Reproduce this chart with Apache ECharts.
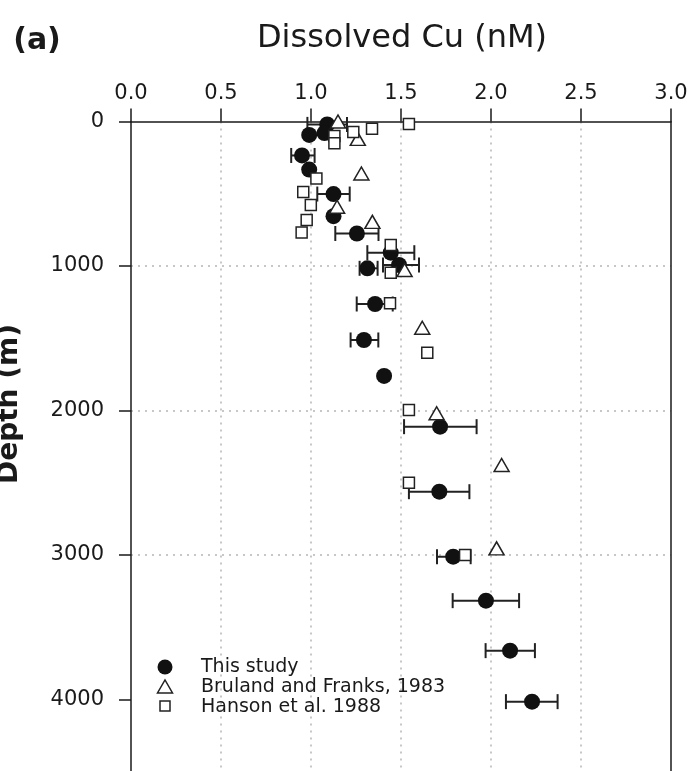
<!DOCTYPE html>
<html>
<head>
<meta charset="utf-8">
<script src="https://cdn.jsdelivr.net/npm/echarts@6/dist/echarts.min.js"></script>
<style>
html,body{margin:0;padding:0;background:#fff;}
#chart{width:691px;height:771px;}
</style>
</head>
<body>
<div id="chart"></div>
<script>
// ---- Data ----
var xTickLabels = ['0.0', '0.5', '1.0', '1.5', '2.0', '2.5', '3.0'];
var yTickValues = [0, 1000, 2000, 3000, 4000];
var seriesNames = ['This study', 'Bruland and Franks, 1983', 'Hanson et al. 1988'];

// This study (filled circles)
var studyCu    = [1.09, 1.075, 0.99, 0.95, 0.99, 1.125, 1.125, 1.255, 1.443, 1.313, 1.489, 1.356, 1.294, 1.406, 1.717, 1.713, 1.79, 1.972, 2.106, 2.228];
var studyDepth = [20, 80, 93, 235, 333, 502, 655, 775, 908, 1016, 993, 1263, 1512, 1761, 2112, 2562, 3012, 3316, 3662, 4015];
var studyLow   = [0.98, null, null, 0.89, null, 1.035, null, 1.135, 1.313, 1.27, 1.40, 1.254, 1.22, null, 1.517, 1.544, 1.70, 1.787, 1.97, 2.083];
var studyHigh  = [1.20, null, null, 1.02, null, 1.215, null, 1.375, 1.574, 1.37, 1.60, 1.454, 1.374, null, 1.92, 1.88, 1.887, 2.156, 2.244, 2.37];

// Bruland and Franks, 1983 (open triangles)
var brulandCu    = [1.15, 1.26, 1.28, 1.145, 1.341, 1.52, 1.618, 1.698, 2.059, 2.031];
var brulandDepth = [0, 120, 360, 590, 695, 1028, 1427, 2019, 2377, 2954];

// Hanson et al. 1988 (open squares)
var hansonCu    = [1.544, 1.339, 1.235, 1.13, 1.13, 1.03, 0.957, 0.999, 0.976, 0.948, 1.443, 1.443, 1.439, 1.646, 1.544, 1.544, 1.856];
var hansonDepth = [17, 50, 72, 100, 150, 395, 488, 578, 682, 769, 855, 1046, 1258, 1600, 1997, 2500, 3000];

// ---- Build ----
function pairs(xs, ys) { return xs.map(function (x, i) { return [x, ys[i]]; }); }
var errData = [];
studyLow.forEach(function (lo, i) {
  if (lo !== null) errData.push([lo, studyHigh[i], studyDepth[i]]);
});

var FONT = 'DejaVu Sans';
var INK = '#1a1a1a';
var Y_MAX = 4495;

var chart = echarts.init(document.getElementById('chart'), null, {renderer: 'canvas'});
chart.setOption({
  animation: false,
  backgroundColor: '#fff',
  grid: {left: 131, top: 121.5, width: 540, height: 649.5, containLabel: false},
  xAxis: {
    type: 'value', position: 'top', min: 0, max: 3, interval: 0.5,
    axisLine: {show: true, lineStyle: {color: INK, width: 1.5}},
    axisTick: {show: true, inside: false, length: 13, lineStyle: {color: INK, width: 1.5}},
    axisLabel: {margin: 17, color: INK, fontFamily: FONT, fontSize: 21,
      formatter: function (v) { var i = Math.round(v / 0.5); return xTickLabels[i] || ''; }},
    splitLine: {show: true, showMinLine: false, showMaxLine: false, lineStyle: {color: '#b5b5b5', width: 1.5, type: [2, 5]}}
  },
  yAxis: [{
    type: 'value', inverse: true, min: 0, max: Y_MAX, interval: 1000, position: 'left',
    axisLine: {show: true, lineStyle: {color: INK, width: 1.5}},
    axisTick: {show: true, length: 12, customValues: yTickValues, lineStyle: {color: INK, width: 1.5}},
    axisLabel: {margin: 27, color: INK, fontFamily: FONT, fontSize: 21, customValues: yTickValues,
      formatter: function (v) { return String(v); }},
    splitLine: {show: true, showMinLine: false, showMaxLine: false, lineStyle: {color: '#b5b5b5', width: 1.5, type: [2, 5]}}
  }, {
    type: 'value', inverse: true, min: 0, max: Y_MAX, position: 'right',
    axisLine: {show: true, onZero: false, lineStyle: {color: INK, width: 1.5}},
    axisTick: {show: false}, axisLabel: {show: false}, splitLine: {show: false}
  }],
  series: [
    {
      name: 'error', type: 'custom', z: 1,
      encode: {x: [0, 1], y: 2},
      data: errData,
      renderItem: function (params, api) {
        var lo = api.coord([api.value(0), api.value(2)]);
        var hi = api.coord([api.value(1), api.value(2)]);
        var h = 7.5;
        var st = {stroke: '#222', lineWidth: 2};
        return {type: 'group', children: [
          {type: 'line', shape: {x1: lo[0], y1: lo[1], x2: hi[0], y2: hi[1]}, style: st},
          {type: 'line', shape: {x1: lo[0], y1: lo[1] - h, x2: lo[0], y2: lo[1] + h}, style: st},
          {type: 'line', shape: {x1: hi[0], y1: hi[1] - h, x2: hi[0], y2: hi[1] + h}, style: st}
        ]};
      }
    },
    {
      name: seriesNames[0], type: 'scatter', z: 2, symbol: 'circle', symbolSize: 16,
      itemStyle: {color: '#111', opacity: 1},
      data: pairs(studyCu, studyDepth)
    },
    {
      name: seriesNames[1], type: 'scatter', z: 3, symbol: 'triangle', symbolSize: [15, 13],
      itemStyle: {color: '#fff', borderColor: '#222', borderWidth: 1.5, opacity: 1},
      data: pairs(brulandCu, brulandDepth)
    },
    {
      name: seriesNames[2], type: 'scatter', z: 4, symbol: 'rect', symbolSize: 11,
      itemStyle: {color: '#fff', borderColor: '#222', borderWidth: 1.5, opacity: 1},
      data: pairs(hansonCu, hansonDepth)
    }
  ],
  graphic: [
    {type: 'text', x: 37, y: 41, style: {text: '(a)', font: 'bold 30px "DejaVu Sans"', fill: INK, textAlign: 'center', textVerticalAlign: 'middle'}},
    {type: 'text', x: 402, y: 39, style: {text: 'Dissolved Cu (nM)', font: '32px "DejaVu Sans"', fill: INK, textAlign: 'center', textVerticalAlign: 'middle'}},
    {type: 'text', x: 10, y: 404, rotation: Math.PI / 2, style: {text: 'Depth (m)', font: 'bold 28px "DejaVu Sans"', fill: INK, textAlign: 'center', textVerticalAlign: 'middle'}},
    // legend
    {type: 'circle', shape: {cx: 165, cy: 667, r: 7.5}, style: {fill: '#111'}, z: 10},
    {type: 'polygon', shape: {points: [[157.5, 693], [172.5, 693], [165, 680]]}, style: {fill: '#fff', stroke: '#222', lineWidth: 1.5}, z: 10},
    {type: 'rect', shape: {x: 160, y: 701, width: 10, height: 10}, style: {fill: '#fff', stroke: '#222', lineWidth: 1.5}, z: 10},
    {type: 'text', x: 201, y: 667, z: 10, style: {text: seriesNames[0], font: '19px "DejaVu Sans"', fill: INK, textVerticalAlign: 'middle'}},
    {type: 'text', x: 201, y: 687, z: 10, style: {text: seriesNames[1], font: '19px "DejaVu Sans"', fill: INK, textVerticalAlign: 'middle'}},
    {type: 'text', x: 201, y: 707, z: 10, style: {text: seriesNames[2], font: '19px "DejaVu Sans"', fill: INK, textVerticalAlign: 'middle'}}
  ]
});
</script>
</body>
</html>
